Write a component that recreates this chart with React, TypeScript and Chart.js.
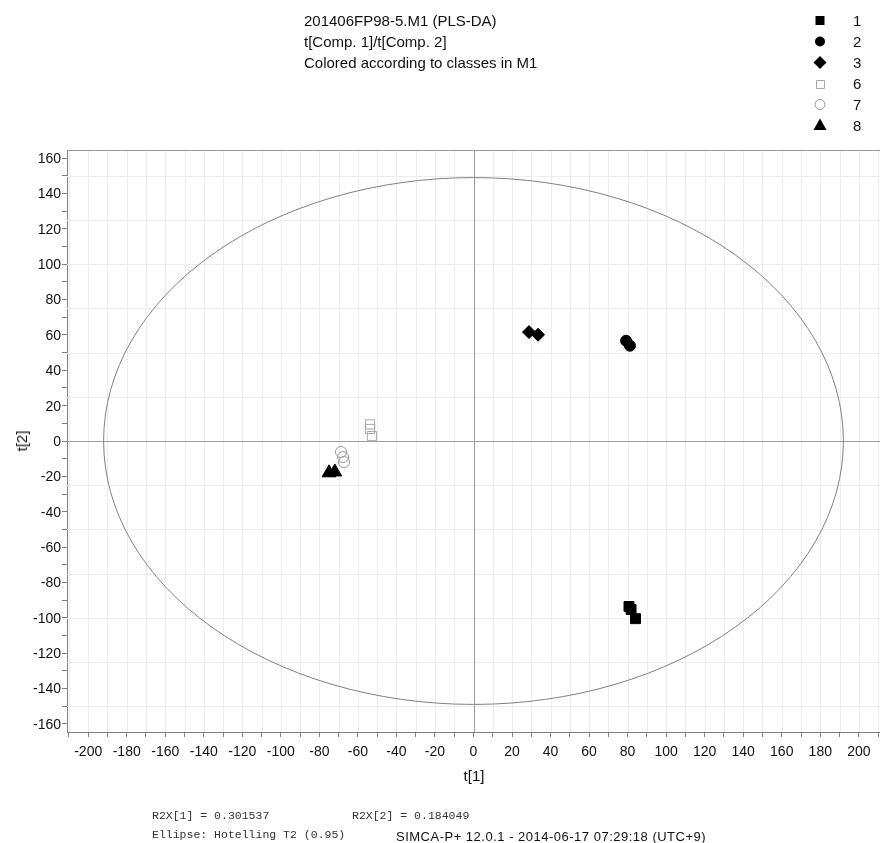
import React, { useEffect, useRef } from 'react';
import { Chart, registerables } from 'chart.js';

Chart.register(...registerables);

// ---- data (t[1], t[2] scores) ----
const classLabels = ['1', '2', '3', '6', '7', '8'];
const class1 = [
  { x: 80.7, y: -93.6 },
  { x: 81.8, y: -95.3 },
  { x: 84.1, y: -100.5 },
];
const class2 = [
  { x: 79.2, y: 56.7 },
  { x: 81.2, y: 53.9 },
];
const class3 = [
  { x: 28.8, y: 61.6 },
  { x: 33.5, y: 60.1 },
];
const class6 = [
  { x: -53.7, y: 9.4 },
  { x: -53.7, y: 6.8 },
  { x: -52.7, y: 2.8 },
];
const class7 = [
  { x: -68.8, y: -6.2 },
  { x: -67.7, y: -9.1 },
  { x: -67.2, y: -11.9 },
];
const class8 = [
  { x: -75.0, y: -18.0 },
  { x: -72.0, y: -17.5 },
];

const X_MIN = -211;
const X_MAX = 211;
const Y_MIN = -164.6;
const Y_MAX = 164.6;
const X_TICK_STEP = 10;
const Y_TICK_STEP = 10;
const LABEL_STEP = 20;
const X_GRID_STEP = 10;
const Y_GRID_STEP = 25;
const ELLIPSE_A = 192; // Hotelling T2 (0.95) semi-axis along t[1]
const ELLIPSE_B = 149; // semi-axis along t[2]

const titleLines = [
  '201406FP98-5.M1 (PLS-DA)',
  't[Comp. 1]/t[Comp. 2]',
  'Colored according to classes in M1',
];
const footerR2X1 = 'R2X[1] = 0.301537';
const footerR2X2 = 'R2X[2] = 0.184049';
const footerEllipse = 'Ellipse: Hotelling T2 (0.95)';
const footerSimca = 'SIMCA-P+ 12.0.1 - 2014-06-17 07:29:18 (UTC+9)';

const SANS = '"Liberation Sans", Arial, Helvetica, sans-serif';
const MONO = '"Liberation Mono", "Courier New", monospace';

type Marker = 'square' | 'circle' | 'diamond' | 'osquare' | 'ocircle' | 'triangle';
const legendMarkers: Marker[] = ['square', 'circle', 'diamond', 'osquare', 'ocircle', 'triangle'];

function drawMarker(ctx: CanvasRenderingContext2D, m: Marker, x: number, y: number) {
  ctx.save();
  ctx.lineWidth = 1;
  ctx.fillStyle = '#000';
  ctx.strokeStyle = '#000';
  ctx.beginPath();
  switch (m) {
    case 'square':
      ctx.rect(x - 4.5, y - 4.5, 9, 9);
      ctx.fill();
      break;
    case 'circle':
      ctx.arc(x, y, 5, 0, Math.PI * 2);
      ctx.fill();
      break;
    case 'diamond':
      ctx.moveTo(x, y - 6.5);
      ctx.lineTo(x + 6.5, y);
      ctx.lineTo(x, y + 6.5);
      ctx.lineTo(x - 6.5, y);
      ctx.closePath();
      ctx.fill();
      break;
    case 'osquare':
      ctx.strokeStyle = '#a8a8a8';
      ctx.rect(Math.round(x - 4) + 0.5, Math.round(y - 4) + 0.5, 8, 8);
      ctx.stroke();
      break;
    case 'ocircle':
      ctx.strokeStyle = '#999';
      ctx.arc(x, y, 5, 0, Math.PI * 2);
      ctx.stroke();
      break;
    case 'triangle':
      ctx.moveTo(x, y - 7);
      ctx.lineTo(x + 6.5, y + 4.5);
      ctx.lineTo(x - 6.5, y + 4.5);
      ctx.closePath();
      ctx.fill();
      break;
  }
  ctx.restore();
}

const LEGEND_X = 820;
const LEGEND_Y0 = 20.5;
const LEGEND_DY = 21;

const simcaPlugin = {
  id: 'simcaDecor',
  beforeDatasetsDraw(chart: any) {
    const { ctx, chartArea: a, scales } = chart;
    const xs = scales.x;
    const ys = scales.y;
    ctx.save();
    ctx.lineWidth = 1;
    // light grid
    ctx.strokeStyle = '#ededed';
    ctx.beginPath();
    for (let v = Math.ceil(X_MIN / X_GRID_STEP) * X_GRID_STEP; v <= X_MAX; v += X_GRID_STEP) {
      if (v === 0) continue;
      const px = Math.round(xs.getPixelForValue(v)) + 0.5;
      ctx.moveTo(px, a.top);
      ctx.lineTo(px, a.bottom);
    }
    for (let v = Math.ceil(Y_MIN / Y_GRID_STEP) * Y_GRID_STEP; v <= Y_MAX; v += Y_GRID_STEP) {
      if (v === 0) continue;
      const py = Math.round(ys.getPixelForValue(v)) + 0.5;
      ctx.moveTo(a.left, py);
      ctx.lineTo(a.right, py);
    }
    ctx.stroke();
    // zero lines
    ctx.strokeStyle = '#9c9c9c';
    ctx.beginPath();
    const zx = Math.round(xs.getPixelForValue(0)) + 0.5;
    const zy = Math.round(ys.getPixelForValue(0)) + 0.5;
    ctx.moveTo(zx, a.top);
    ctx.lineTo(zx, a.bottom);
    ctx.moveTo(a.left, zy);
    ctx.lineTo(a.right, zy);
    ctx.stroke();
    // Hotelling ellipse
    const cx = xs.getPixelForValue(0);
    const cy = ys.getPixelForValue(0);
    const rx = xs.getPixelForValue(ELLIPSE_A) - cx;
    const ry = cy - ys.getPixelForValue(ELLIPSE_B);
    ctx.strokeStyle = '#808080';
    ctx.beginPath();
    ctx.ellipse(cx, cy, rx, ry, 0, 0, Math.PI * 2);
    ctx.stroke();
    ctx.restore();
  },
  afterDraw(chart: any) {
    const { ctx, chartArea: a } = chart;
    ctx.save();
    ctx.strokeStyle = '#9a9a9a';
    ctx.lineWidth = 1;
    ctx.beginPath();
    ctx.moveTo(a.left, Math.round(a.top) + 0.5);
    ctx.lineTo(a.right, Math.round(a.top) + 0.5);
    ctx.stroke();
    ctx.restore();
    legendMarkers.forEach((m, i) => drawMarker(ctx, m, LEGEND_X, LEGEND_Y0 + i * LEGEND_DY));
  },
};

const tickFont = { family: SANS, size: 14 };

export default function App() {
  const canvasRef = useRef<HTMLCanvasElement | null>(null);

  useEffect(() => {
    if (!canvasRef.current) return;
    const ds = (label: string, data: any[], style: string, radius: number, fill: string, border: string) => ({
      label,
      data,
      pointStyle: style,
      pointRadius: radius,
      pointHoverRadius: radius,
      pointBackgroundColor: fill,
      pointBorderColor: border,
      pointBorderWidth: 1,
      showLine: false,
    });
    const chart = new Chart(canvasRef.current, {
      type: 'scatter',
      data: {
        datasets: [
          ds(classLabels[0], class1, 'rect', 7, '#000', '#000'),
          ds(classLabels[1], class2, 'circle', 5.5, '#000', '#000'),
          ds(classLabels[2], class3, 'rectRot', 6.5, '#000', '#000'),
          ds(classLabels[3], class6, 'rect', 6.5, 'rgba(0,0,0,0)', '#a8a8a8'),
          ds(classLabels[4], class7, 'circle', 5.5, 'rgba(0,0,0,0)', '#999'),
          ds(classLabels[5], class8, 'triangle', 8, '#000', '#000'),
        ] as any,
      },
      options: {
        animation: false,
        responsive: false,
        layout: { autoPadding: false, padding: { top: 150, left: 0, right: 0, bottom: 0 } },
        plugins: { legend: { display: false }, tooltip: { enabled: false } },
        scales: {
          x: {
            type: 'linear',
            min: X_MIN,
            max: X_MAX,
            afterFit: (s: any) => {
              s.height = 111;
              s.paddingLeft = 0;
              s.paddingRight = 0;
            },
            grid: { drawOnChartArea: false, drawTicks: true, tickLength: 5, color: '#808080' },
            border: { color: '#808080' },
            ticks: {
              stepSize: X_TICK_STEP,
              includeBounds: false,
              autoSkip: false,
              maxRotation: 0,
              padding: 7,
              color: '#111',
              font: tickFont,
              callback: (v: any) => (Math.round(Number(v)) % LABEL_STEP === 0 ? String(Math.round(Number(v))) : ''),
            },
          },
          y: {
            type: 'linear',
            min: Y_MIN,
            max: Y_MAX,
            afterFit: (s: any) => {
              s.width = 67;
              s.paddingTop = 0;
              s.paddingBottom = 0;
            },
            grid: { drawOnChartArea: false, drawTicks: true, tickLength: 5, color: '#808080' },
            border: { color: '#808080' },
            ticks: {
              stepSize: Y_TICK_STEP,
              includeBounds: false,
              autoSkip: false,
              padding: 1,
              labelOffset: 1,
              color: '#111',
              font: tickFont,
              callback: (v: any) => (Math.round(Number(v)) % LABEL_STEP === 0 ? String(Math.round(Number(v))) : ''),
            },
          },
        },
      } as any,
      plugins: [simcaPlugin as any],
    });
    return () => chart.destroy();
  }, []);

  const abs = (s: React.CSSProperties): React.CSSProperties => ({ position: 'absolute', whiteSpace: 'nowrap', ...s });

  return (
    <div style={{ position: 'absolute', left: 0, top: 0, width: 880, height: 843, background: '#fff', overflow: 'hidden' }}>
      <canvas ref={canvasRef} width={880} height={843} style={{ position: 'absolute', left: 0, top: 0 }} />
      <div style={abs({ left: 304, top: 10, fontFamily: SANS, fontSize: 15, lineHeight: '21px', color: '#111' })}>
        {titleLines.map((t) => (
          <div key={t}>{t}</div>
        ))}
      </div>
      <div style={abs({ left: 853, top: 10, fontFamily: SANS, fontSize: 15, lineHeight: '21px', color: '#111' })}>
        {classLabels.map((t) => (
          <div key={t}>{t}</div>
        ))}
      </div>
      <div style={abs({ left: 474, top: 767, transform: 'translateX(-50%)', fontFamily: SANS, fontSize: 15, lineHeight: '18px', color: '#111' })}>
        t[1]
      </div>
      <div
        style={abs({
          left: 22,
          top: 441,
          transform: 'translate(-50%, -50%) rotate(-90deg)',
          fontFamily: SANS,
          fontSize: 15,
          lineHeight: '18px',
          color: '#111',
        })}
      >
        t[2]
      </div>
      <div style={abs({ left: 152, top: 807, fontFamily: MONO, fontSize: 11.5, lineHeight: '18px', color: '#333' })}>{footerR2X1}</div>
      <div style={abs({ left: 352, top: 807, fontFamily: MONO, fontSize: 11.5, lineHeight: '18px', color: '#333' })}>{footerR2X2}</div>
      <div style={abs({ left: 152, top: 826, fontFamily: MONO, fontSize: 11.5, lineHeight: '18px', color: '#333' })}>{footerEllipse}</div>
      <div style={abs({ left: 396, top: 829, fontFamily: SANS, fontSize: 13, letterSpacing: '0.5px', lineHeight: '16px', color: '#111' })}>{footerSimca}</div>
    </div>
  );
}
